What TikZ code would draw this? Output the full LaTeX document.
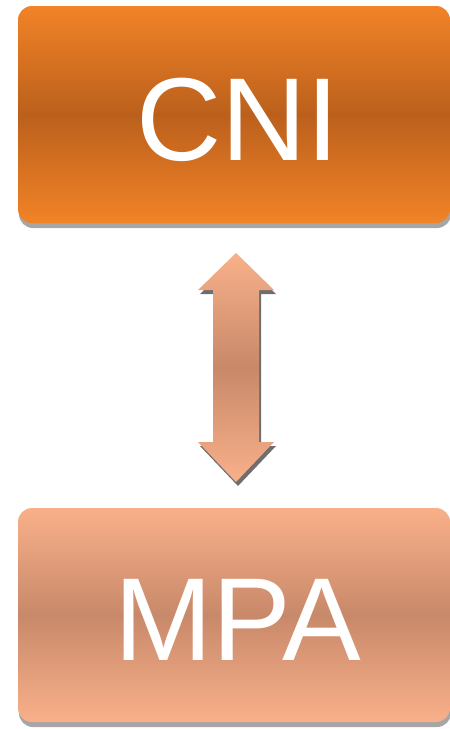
\documentclass[tikz,border=0pt]{standalone}
\usepackage{fontspec}
\setmainfont{Liberation Sans}
\usetikzlibrary{shadows}
\definecolor{orEdge}{HTML}{F28327}
\definecolor{orMid}{HTML}{BB601C}
\definecolor{peEdge}{HTML}{F9B08A}
\definecolor{peMid}{HTML}{C8896A}
\definecolor{boxShadow}{HTML}{A6A6A6}
\definecolor{arrowShadow}{HTML}{6E6E6E}
\begin{document}
\begin{tikzpicture}[x=1pt,y=-1pt,
  box/.style={rounded corners=14pt, minimum width=432pt, inner sep=0pt,
    drop shadow={shadow xshift=1pt, shadow yshift=-5pt, opacity=1, fill=boxShadow}},
  hotbox/.style={box, minimum height=217pt, top color=orEdge, bottom color=orEdge, middle color=orMid},
  softbox/.style={box, minimum height=214pt, top color=peEdge, bottom color=peEdge, middle color=peMid},
  boxtext/.style={inner sep=0pt, text=white, font=\fontsize{118}{120}\selectfont}]
\useasboundingbox (0,0) rectangle (450,729);

\node[hotbox] (cni) at (234,114.5) {};
\node[boxtext] (cniText) at ([xshift=4pt,yshift=-5pt]cni.center) {CNI};
\node[softbox] (mpa) at (234,615) {};
\node[boxtext] (mpaText) at ([xshift=4pt,yshift=-5pt]mpa.center) {MPA};

% two-headed arrow between the boxes
\coordinate (tipT) at (236,253);
\coordinate (tipB) at (236,482);
\def\arrowpath#1{([shift={#1}]tipT) -- ++(38,37) -- ++(-15,0) -- ++(0,152) -- ++(15,0)
  -- ([shift={#1}]tipB) -- ++(-38,-40) -- ++(15,0) -- ++(0,-152) -- ++(-15,0) -- cycle}
\fill[arrowShadow] \arrowpath{(2pt,-4pt)};
\shade[top color=peEdge, bottom color=peEdge, middle color=peMid] \arrowpath{(0pt,0pt)};
\end{tikzpicture}
\end{document}
